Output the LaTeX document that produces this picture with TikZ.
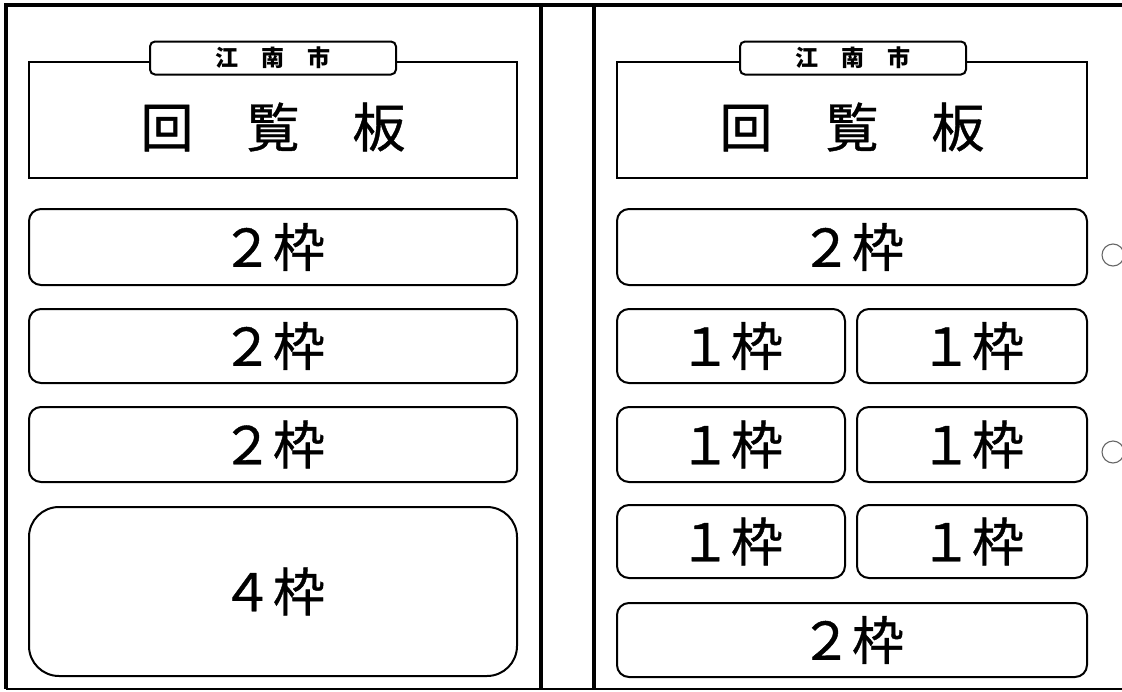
\documentclass[tikz,border=0pt]{standalone}
\usepackage{fontspec}
\newfontfamily\jp[FakeBold=0.8]{Noto Sans CJK JP}
\newfontfamily\jpl{Noto Sans CJK JP}
\begin{document}
\begin{tikzpicture}[x=1pt,y=-1pt,
  frame/.style={line width=3.2pt},
  titlebox/.style={draw, line width=2pt, inner sep=0pt, minimum height=116pt},
  titletext/.style={font=\jp\fontsize{53}{60}\selectfont, inner sep=0pt},
  labelbox/.style={draw, fill=white, line width=2pt, rounded corners=5pt, inner sep=0pt,
    minimum height=33pt, font=\jpl\bfseries\fontsize{23}{26}\selectfont},
  slot/.style={draw, line width=2pt, rounded corners=12pt, inner sep=0pt,
    font=\jp\fontsize{52}{60}\selectfont},
  bigslot/.style={slot, rounded corners=30pt},
  ringmark/.style={circle, draw=black!60, line width=1.1pt, minimum size=22pt, inner sep=0pt}
]
\useasboundingbox (0,0) rectangle (1122,691);
% outer frame
\draw[frame] (1122,5) -- (6,5) -- (6,689);
\draw[line width=2pt] (6,689) -- (1122,689);
\draw[frame] (541,5) -- (541,689);
\draw[frame] (594,5) -- (594,689);

% left board
\node[titlebox, minimum width=488pt] (lt) at (273,120) {};
\node[titletext] (ltt) at (273,127) {回　覧　板};
\node[labelbox, minimum width=246pt] (ll) at (273,58) {江　南　市};
\node[slot, minimum width=488pt, minimum height=76pt] (l1) at (273,247) {２枠};
\node[slot, minimum width=488pt, minimum height=74pt] (l2) at (273,346) {２枠};
\node[slot, minimum width=488pt, minimum height=75pt] (l3) at (273,444.5) {２枠};
\node[bigslot, minimum width=488pt, minimum height=169pt] (l4) at (273,591.5) {４枠};

% right board
\node[titlebox, minimum width=470pt] (rt) at (852,120) {};
\node[titletext] (rtt) at (852,127) {回　覧　板};
\node[labelbox, minimum width=226pt] (rl) at (853,58) {江　南　市};
\node[slot, minimum width=470pt, minimum height=76pt] (r1) at (852,247) {２枠};
\node[slot, minimum width=228pt, minimum height=74pt] (r2a) at (731,346) {１枠};
\node[slot, minimum width=230pt, minimum height=74pt] (r2b) at (972,346) {１枠};
\node[slot, minimum width=228pt, minimum height=75pt] (r3a) at (731,444.5) {１枠};
\node[slot, minimum width=230pt, minimum height=75pt] (r3b) at (972,444.5) {１枠};
\node[slot, minimum width=228pt, minimum height=73pt] (r4a) at (731,541.5) {１枠};
\node[slot, minimum width=230pt, minimum height=73pt] (r4b) at (972,541.5) {１枠};
\node[slot, minimum width=470pt, minimum height=74pt] (r5) at (852,640) {２枠};

% marks
\node[ringmark] (m1) at (1113,255) {};
\node[ringmark] (m2) at (1113,452) {};
\end{tikzpicture}
\end{document}
